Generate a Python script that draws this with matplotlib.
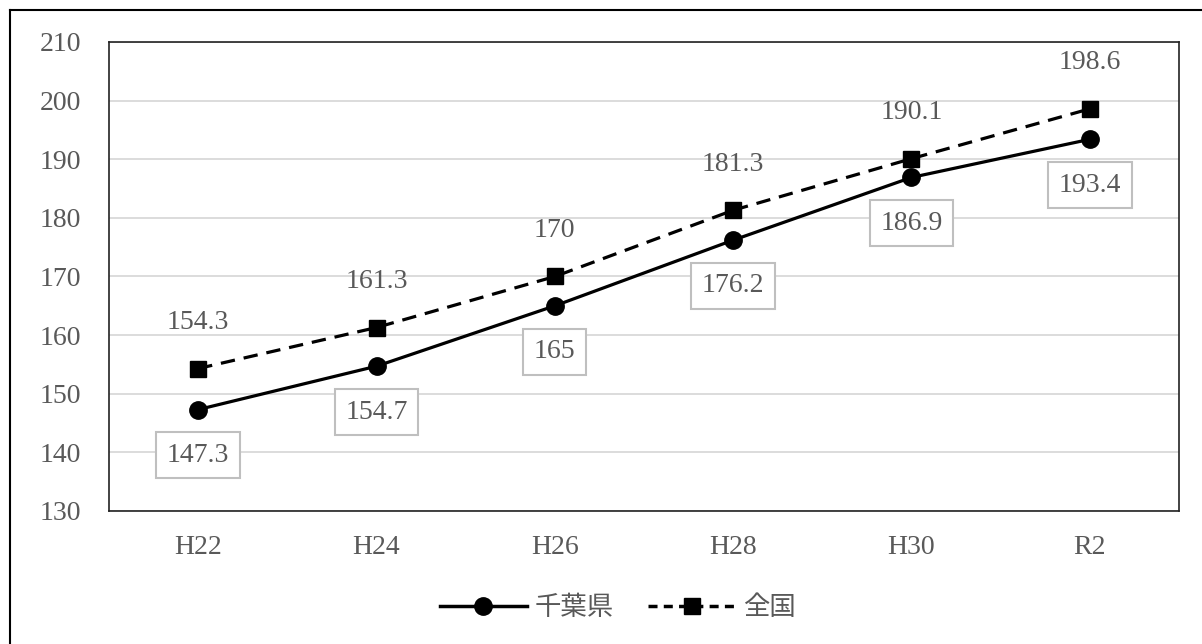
import matplotlib
matplotlib.use("Agg")
import matplotlib.pyplot as plt
from matplotlib.lines import Line2D

plt.rcParams['font.family'] = ['Liberation Serif', 'Noto Sans CJK JP', 'DejaVu Sans']

categories = ["H22", "H24", "H26", "H28", "H30", "R2"]
chiba = [147.3, 154.7, 165, 176.2, 186.9, 193.4]
zenkoku = [154.3, 161.3, 170, 181.3, 190.1, 198.6]
chiba_labels = ["147.3", "154.7", "165", "176.2", "186.9", "193.4"]
zenkoku_labels = ["154.3", "161.3", "170", "181.3", "190.1", "198.6"]
series_names = ["千葉県", "全国"]
yticks = [130, 140, 150, 160, 170, 180, 190, 200, 210]

W, H = 1202, 644
fig = plt.figure(figsize=(W / 100, H / 100), dpi=100)

# outer frame (only left/top visible in the screenshot)
fig.add_artist(Line2D([10 / W, 10 / W], [0, 1 - 10 / H], transform=fig.transFigure,
                      color="black", lw=1.5))
fig.add_artist(Line2D([10 / W, 1], [1 - 10 / H, 1 - 10 / H], transform=fig.transFigure,
                      color="black", lw=1.5))

left, right, top, bottom = 109, 1179, 42, 511
ax = fig.add_axes([left / W, 1 - bottom / H, (right - left) / W, (bottom - top) / H])

x = list(range(len(categories)))
gray_txt = "#595959"
fs = 20

ax.set_xlim(-0.5, len(categories) - 0.5)
ax.set_ylim(130, 210)
ax.set_yticks(yticks)
ax.set_xticks(x)
ax.set_xticklabels(categories)
ax.tick_params(axis="both", length=0, labelsize=fs, colors=gray_txt)
ax.tick_params(axis="y", pad=20)
ax.tick_params(axis="x", pad=17)
ax.grid(axis="y", color="#d9d9d9", lw=1.3)
ax.set_axisbelow(True)
for s in ax.spines.values():
    s.set_color("#222222")
    s.set_linewidth(1.2)

ax.plot(x, zenkoku, color="black", lw=2.3, ls=(0, (4.5, 2.8)), marker="s",
        markersize=11, zorder=3, label=series_names[1])
ax.plot(x, chiba, color="black", lw=2.3, marker="o", markersize=12.5,
        zorder=3, label=series_names[0])

for xi, v, t in zip(x, zenkoku, zenkoku_labels):
    ax.annotate(t, (xi, v), xytext=(0, 33), textcoords="offset points",
                ha="center", va="center", fontsize=fs, color=gray_txt)
for xi, v, t in zip(x, chiba, chiba_labels):
    ax.annotate(t, (xi, v), xytext=(0, -33), textcoords="offset points",
                ha="center", va="center", fontsize=fs, color=gray_txt,
                bbox=dict(boxstyle="square,pad=0.38", fc="white", ec="#bfbfbf", lw=1.5),
                zorder=4)

handles = [
    Line2D([], [], color="black", lw=2.5, marker="o", markersize=12.5),
    Line2D([], [], color="black", lw=2.5, ls=(0, (2.6, 1.8)), marker="s", markersize=11),
]
fig.legend(handles, series_names, loc="center", bbox_to_anchor=(618 / W, 1 - 608 / H),
           ncol=2, frameon=False, fontsize=19, labelcolor=gray_txt,
           handlelength=3.3, handletextpad=0.3, columnspacing=1.3)

fig.savefig("out.png", dpi=100)
